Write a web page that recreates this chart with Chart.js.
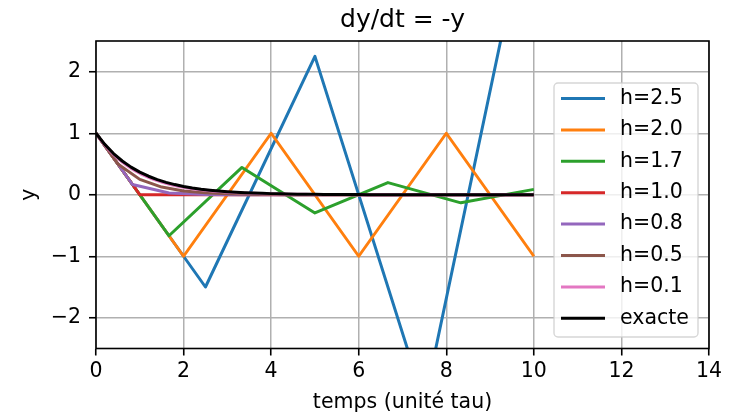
<!DOCTYPE html>
<html><head><meta charset="utf-8">
<script src="https://cdn.jsdelivr.net/npm/chart.js@4.4.0/dist/chart.umd.min.js"></script>
<style>html,body{margin:0;padding:0;background:#fff}#wrap{width:731px;height:414px}</style>
</head><body><div id="wrap"><canvas id="c" width="731" height="414"></canvas></div>
<script>
const chartTitle = 'dy/dt = -y';
const xLabel = 'temps (unité tau)';
const yLabel = 'y';
const xTicks = [0, 2, 4, 6, 8, 10, 12, 14];
const yTicks = [-2, -1, 0, 1, 2];
const seriesLabels = ['h=2.5', 'h=2.0', 'h=1.7', 'h=1.0', 'h=0.8', 'h=0.5', 'h=0.1', 'exacte'];
const seriesColors = ['#1f77b4', '#ff7f0e', '#2ca02c', '#d62728', '#9467bd', '#8c564b', '#e377c2', '#000000'];

const t_h25 = [0, 2.5, 5, 7.5, 10];
const y_h25 = [1, -1.5, 2.25, -3.375, 5.0625];
const t_h20 = [0, 2, 4, 6, 8, 10];
const y_h20 = [1, -1, 1, -1, 1, -1];
const t_h17 = [0, 1.667, 3.333, 5, 6.667, 8.333, 10];
const y_h17 = [1, -0.6667, 0.4444, -0.2963, 0.1975, -0.1317, 0.0878];
const t_h10 = [0, 1, 2, 3, 4, 5, 6, 7, 8, 9, 10];
const y_h10 = [1, 0, 0, 0, 0, 0, 0, 0, 0, 0, 0];
const t_h08 = [0, 0.833, 1.667, 2.5, 3.333, 4.167, 5, 5.833, 6.667, 7.5, 8.333, 9.167, 10];
const y_h08 = [1, 0.1667, 0.0278, 0.0046, 0.0008, 0.0001, 0, 0, 0, 0, 0, 0, 0];
const t_h05 = [0, 0.5, 1, 1.5, 2, 2.5, 3, 3.5, 4, 4.5, 5, 5.5, 6, 6.5, 7, 7.5, 8, 8.5, 9, 9.5, 10];
const y_h05 = [1, 0.5, 0.25, 0.125, 0.0625, 0.0313, 0.0156, 0.0078, 0.0039, 0.002, 0.001, 0.0005, 0.0002, 0.0001, 0.0001, 0, 0, 0, 0, 0, 0];
const t_h01 = [0, 0.1, 0.2, 0.3, 0.4, 0.5, 0.6, 0.7, 0.8, 0.9,
  1, 1.1, 1.2, 1.3, 1.4, 1.5, 1.6, 1.7, 1.8, 1.9,
  2, 2.1, 2.2, 2.3, 2.4, 2.5, 2.6, 2.7, 2.8, 2.9,
  3, 3.1, 3.2, 3.3, 3.4, 3.5, 3.6, 3.7, 3.8, 3.9,
  4, 4.1, 4.2, 4.3, 4.4, 4.5, 4.6, 4.7, 4.8, 4.9,
  5, 5.1, 5.2, 5.3, 5.4, 5.5, 5.6, 5.7, 5.8, 5.9,
  6, 6.1, 6.2, 6.3, 6.4, 6.5, 6.6, 6.7, 6.8, 6.9,
  7, 7.1, 7.2, 7.3, 7.4, 7.5, 7.6, 7.7, 7.8, 7.9,
  8, 8.1, 8.2, 8.3, 8.4, 8.5, 8.6, 8.7, 8.8, 8.9,
  9, 9.1, 9.2, 9.3, 9.4, 9.5, 9.6, 9.7, 9.8, 9.9, 10];
const y_h01 = [1, 0.9, 0.81, 0.729, 0.6561, 0.5905, 0.5314, 0.4783, 0.4305, 0.3874,
  0.3487, 0.3138, 0.2824, 0.2542, 0.2288, 0.2059, 0.1853, 0.1668, 0.1501, 0.1351,
  0.1216, 0.1094, 0.0985, 0.0886, 0.0798, 0.0718, 0.0646, 0.0581, 0.0523, 0.0471,
  0.0424, 0.0382, 0.0343, 0.0309, 0.0278, 0.0250, 0.0225, 0.0203, 0.0182, 0.0164,
  0.0148, 0.0133, 0.0120, 0.0108, 0.0097, 0.0087, 0.0079, 0.0071, 0.0064, 0.0057,
  0.0052, 0.0046, 0.0042, 0.0038, 0.0034, 0.0030, 0.0027, 0.0025, 0.0022, 0.0020,
  0.0018, 0.0016, 0.0015, 0.0013, 0.0012, 0.0011, 0.0010, 0.0009, 0.0008, 0.0007,
  0.0006, 0.0006, 0.0005, 0.0005, 0.0004, 0.0004, 0.0003, 0.0003, 0.0003, 0.0002,
  0.0002, 0.0002, 0.0002, 0.0002, 0.0001, 0.0001, 0.0001, 0.0001, 0.0001, 0.0001,
  0.0001, 0.0001, 0.0001, 0.0001, 0, 0, 0, 0, 0, 0, 0];
const t_exact = [0, 0.2, 0.4, 0.6, 0.8, 1, 1.2, 1.4, 1.6, 1.8,
  2, 2.2, 2.4, 2.6, 2.8, 3, 3.2, 3.4, 3.6, 3.8,
  4, 4.2, 4.4, 4.6, 4.8, 5, 5.2, 5.4, 5.6, 5.8,
  6, 6.2, 6.4, 6.6, 6.8, 7, 7.2, 7.4, 7.6, 7.8,
  8, 8.2, 8.4, 8.6, 8.8, 9, 9.2, 9.4, 9.6, 9.8, 10];
const y_exact = [1, 0.8187, 0.6703, 0.5488, 0.4493, 0.3679, 0.3012, 0.2466, 0.2019, 0.1653,
  0.1353, 0.1108, 0.0907, 0.0743, 0.0608, 0.0498, 0.0408, 0.0334, 0.0273, 0.0224,
  0.0183, 0.0150, 0.0123, 0.0101, 0.0082, 0.0067, 0.0055, 0.0045, 0.0037, 0.0030,
  0.0025, 0.0020, 0.0017, 0.0014, 0.0011, 0.0009, 0.0007, 0.0006, 0.0005, 0.0004,
  0.0003, 0.0003, 0.0002, 0.0002, 0.0002, 0.0001, 0.0001, 0.0001, 0.0001, 0.0001, 0];

const seriesT = [t_h25, t_h20, t_h17, t_h10, t_h08, t_h05, t_h01, t_exact];
const seriesY = [y_h25, y_h20, y_h17, y_h10, y_h08, y_h05, y_h01, y_exact];

const FONT = "'DejaVu Sans', sans-serif";
const FS = 20.5;
const fmt = v => (v < 0 ? '\u2212' + Math.abs(v) : String(v));

const datasets = seriesT.map((t, i) => ({
  label: seriesLabels[i],
  data: t.map((x, j) => ({x: x, y: seriesY[i][j]})),
  borderColor: seriesColors[i],
  backgroundColor: seriesColors[i],
  borderWidth: 3,
  pointRadius: 0,
  pointHoverRadius: 0,
  tension: 0,
  fill: false,
  borderJoinStyle: 'round',
  order: seriesT.length - 1 - i
}));

const spinesPlugin = {
  id: 'spines',
  afterDatasetsDraw(chart) {
    const {ctx, chartArea: a} = chart;
    ctx.save();
    ctx.strokeStyle = '#000';
    ctx.lineWidth = 1.6;
    ctx.strokeRect(a.left, a.top, a.right - a.left, a.bottom - a.top);
    ctx.restore();
  }
};

const legendPlugin = {
  id: 'mplLegend',
  afterDraw(chart) {
    const {ctx, chartArea: a} = chart;
    const right = a.right - 11, left = right - 144;
    const top = 83, bottom = 337;
    const rowTop = top + 15.5, pitch = 31.4;
    ctx.save();
    ctx.beginPath();
    const r = 4;
    ctx.moveTo(left + r, top);
    ctx.arcTo(right, top, right, bottom, r);
    ctx.arcTo(right, bottom, left, bottom, r);
    ctx.arcTo(left, bottom, left, top, r);
    ctx.arcTo(left, top, right, top, r);
    ctx.closePath();
    ctx.fillStyle = 'rgba(255,255,255,0.8)';
    ctx.fill();
    ctx.strokeStyle = 'rgba(204,204,204,0.8)';
    ctx.lineWidth = 1.4;
    ctx.stroke();
    chart.data.datasets.forEach((ds, i) => {
      const y = rowTop + i * pitch;
      ctx.beginPath();
      ctx.moveTo(left + 7, y);
      ctx.lineTo(left + 51, y);
      ctx.strokeStyle = ds.borderColor;
      ctx.lineWidth = 3;
      ctx.stroke();
      ctx.fillStyle = '#000';
      ctx.font = FS + "px " + FONT;
      ctx.textBaseline = 'middle';
      ctx.textAlign = 'left';
      ctx.fillText(ds.label, left + 66, y);
    });
    ctx.restore();
  }
};

new Chart(document.getElementById('c'), {
  type: 'line',
  data: {datasets: datasets},
  plugins: [spinesPlugin, legendPlugin],
  options: {
    responsive: false,
    animation: false,
    devicePixelRatio: 1,
    layout: {padding: {left: 0, right: 22, top: 0, bottom: 0}},
    plugins: {
      legend: {display: false},
      tooltip: {enabled: false},
      title: {
        display: true, text: chartTitle, color: '#000', fullSize: false,
        font: {family: FONT, size: 25, weight: 'normal', lineHeight: 1.2},
        padding: {top: 5, bottom: 6}
      }
    },
    scales: {
      x: {
        type: 'linear', min: 0, max: 14,
        afterBuildTicks: s => { s.ticks = xTicks.map(v => ({value: v})); },
        afterFit: s => { s.height = 65.5; },
        border: {display: false},
        grid: {color: '#b0b0b0', lineWidth: 1.5, drawTicks: true, tickLength: 7, tickColor: '#000', tickWidth: 1.6},
        ticks: {color: '#000', font: {family: FONT, size: FS, lineHeight: 1.2}, padding: 4.2, maxRotation: 0, autoSkip: false, callback: v => fmt(v)},
        title: {display: true, text: xLabel, color: '#000', font: {family: FONT, size: FS, lineHeight: 1.2}, padding: {top: 0, bottom: -0.5}}
      },
      y: {
        type: 'linear', min: -2.5, max: 2.5,
        afterBuildTicks: s => { s.ticks = yTicks.map(v => ({value: v})); },
        afterFit: s => { s.width = 96; },
        border: {display: false},
        grid: {color: '#b0b0b0', lineWidth: 1.5, drawTicks: true, tickLength: 7, tickColor: '#000', tickWidth: 1.6},
        ticks: {color: '#000', font: {family: FONT, size: FS, lineHeight: 1.2}, padding: 8, autoSkip: false, callback: v => fmt(v)},
        title: {display: true, text: yLabel, color: '#000', font: {family: FONT, size: FS, lineHeight: 1.2}, padding: {top: 17.7, bottom: 0}}
      }
    }
  }
});
</script>
</body></html>
